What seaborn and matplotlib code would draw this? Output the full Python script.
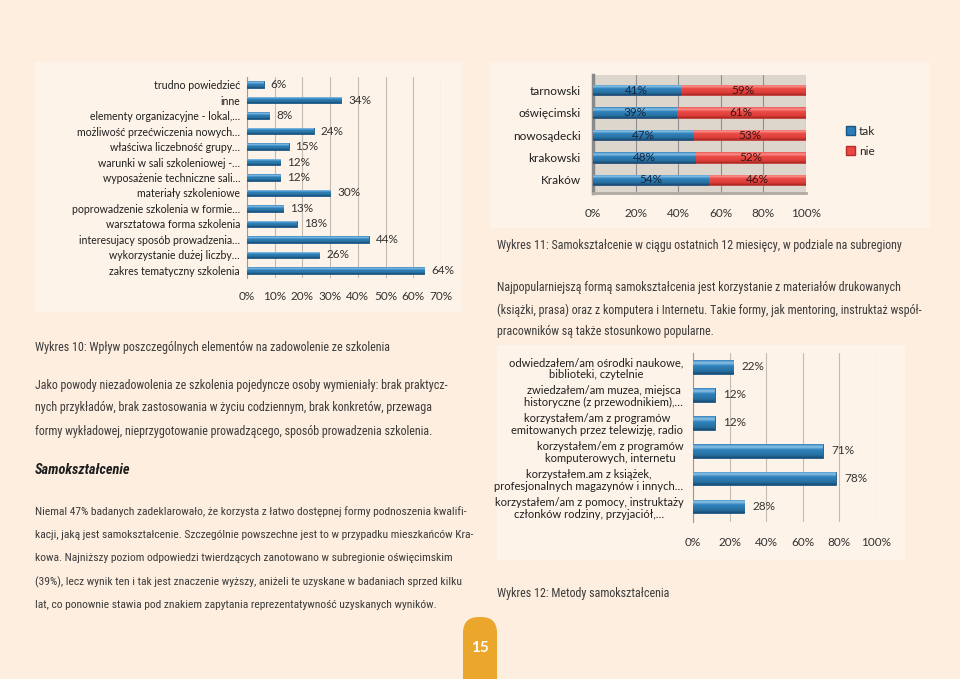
import numpy as np
import pandas as pd
import matplotlib
matplotlib.use('Agg')
import matplotlib.pyplot as plt
import seaborn as sns
from matplotlib import font_manager
from matplotlib.ft2font import FT2Font
from matplotlib.font_manager import FontProperties
from matplotlib.colors import LinearSegmentedColormap
from matplotlib.patches import FancyBboxPatch, Patch, Rectangle

sns.set_style('white')

fonts = font_manager.fontManager.ttflist
names = {f.name for f in fonts}
chart_font = 'Lato' if 'Lato' in names else 'DejaVu Sans'
plt.rcParams['font.family'] = [chart_font, 'DejaVu Sans']

W, H = 960, 679
PAGE = '#fdeedf'
BLUE = '#2c7db8'
BLUE_EDGE = '#1b5786'
RED = '#ec4843'
RED_EDGE = '#b52e2a'
TXT = '#3b3b3b'

# Wykres 10
elements = ['trudno powiedzieć', 'inne', 'elementy organizacyjne - lokal,…',
            'możliwość przećwiczenia nowych…', 'właściwa liczebność grupy…',
            'warunki w sali szkoleniowej -…', 'wyposażenie techniczne sali…',
            'materiały szkoleniowe', 'poprowadzenie szkolenia w formie…',
            'warsztatowa forma szkolenia', 'interesujacy sposób prowadzenia…',
            'wykorzystanie dużej liczby…', 'zakres tematyczny szkolenia']
elements_pct = [6, 34, 8, 24, 15, 12, 12, 30, 13, 18, 44, 26, 64]

# Wykres 11
subregions = ['tarnowski', 'oświęcimski', 'nowosądecki', 'krakowski', 'Kraków']
tak = [41, 39, 47, 48, 54]
nie = [59, 61, 53, 52, 46]

# Wykres 12
methods = ['odwiedzałem/am ośrodki naukowe,\nbiblioteki, czytelnie',
           'zwiedzałem/am muzea, miejsca\nhistoryczne (z przewodnikiem),…',
           'korzystałem/am z programów\nemitowanych przez telewizję, radio',
           'korzystałem/em z programów\nkomputerowych, internetu',
           'korzystałem.am z książek,\nprofesjonalnych magazynów i innych…',
           'korzystałem/am z pomocy, instruktaży\nczłonków rodziny, przyjaciół,…']
methods_pct = [22, 12, 12, 71, 78, 28]

# page text
caption10 = 'Wykres 10: Wpływ poszczególnych elementów na zadowolenie ze szkolenia'
caption11 = 'Wykres 11: Samokształcenie w ciągu ostatnich 12 miesięcy, w podziale na subregiony'
caption12 = 'Wykres 12: Metody samokształcenia'
heading = 'Samokształcenie'
para1 = ['Jako powody niezadowolenia ze szkolenia pojedyncze osoby wymieniały: brak praktycz-',
         'nych przykładów, brak zastosowania w życiu codziennym, brak konkretów, przewaga',
         'formy wykładowej, nieprzygotowanie prowadzącego, sposób prowadzenia szkolenia.']
para2 = ['Niemal 47% badanych zadeklarowało, że korzysta z łatwo dostępnej formy podnoszenia kwalifi-',
         'kacji, jaką jest samokształcenie. Szczególnie powszechne jest to w przypadku mieszkańców Kra-',
         'kowa. Najniższy poziom odpowiedzi twierdzących zanotowano w subregionie oświęcimskim',
         '(39%), lecz wynik ten i tak jest znaczenie wyższy, aniżeli te uzyskane w badaniach sprzed kilku',
         'lat, co ponownie stawia pod znakiem zapytania reprezentatywność uzyskanych wyników.']
para3 = ['Najpopularniejszą formą samokształcenia jest korzystanie z materiałów drukowanych',
         '(książki, prasa) oraz z komputera i Internetu. Takie formy, jak mentoring, instruktaż współ-',
         'pracowników są także stosunkowo popularne.']
page_no = '15'

fig = plt.figure(figsize=(W / 100, H / 100), dpi=100, facecolor=PAGE)
renderer = fig.canvas.get_renderer()

# background canvas in pixel coordinates
bg = fig.add_axes([0, 0, 1, 1], zorder=-5)
bg.set_xlim(0, W)
bg.set_ylim(H, 0)
bg.axis('off')
for x0, y0, x1, y1 in [(35, 62, 462, 312), (490, 62, 930, 228), (497, 345, 905, 560)]:
    bg.add_patch(Rectangle((x0, y0), x1 - x0, y1 - y0, color='#fef3e8', lw=0))


def text_width(s, fp, size=11):
    t = bg.text(0, 0, s, fontproperties=fp, fontsize=size)
    w = t.get_window_extent(renderer=renderer).width
    t.remove()
    return w


def weight_of(f):
    w = f.weight
    if isinstance(w, str):
        w = font_manager.weight_dict.get(w, 400)
    return w


def has_polish(path):
    try:
        ft = FT2Font(path)
        return all(ft.get_char_index(ord(c)) for c in 'ąćęłńóśźżĄŁŚŻ…')
    except Exception:
        return False


# narrow sans face for the page text, taken only from the known sans families
families = ('DejaVu Sans', 'Liberation Sans', 'Noto Sans', 'Roboto', 'Open Sans', 'Lato', 'Inter')
pool = [f for f in fonts if f.name.startswith(families) and 'CJK' not in f.name
        and 'Mono' not in f.name and has_polish(f.fname)]
regular = [f for f in pool if 350 <= weight_of(f) <= 500 and f.style == 'normal'
           and ('Narrow' in f.name or 'Condensed' in f.name
                or f.stretch in ('condensed', 'semi-condensed'))]
fallback = [f for f in pool if f.name == 'Roboto' and 350 <= weight_of(f) <= 500 and f.style == 'normal']
regular = regular or fallback
if regular:
    body_font = min(regular, key=lambda f: abs(text_width(para1[0], FontProperties(fname=f.fname), 10) - 427))
    BODY = FontProperties(fname=body_font.fname)
    bold_it = [f for f in pool if f.name == body_font.name and f.stretch == body_font.stretch
               and weight_of(f) >= 600 and f.style == 'italic']
    bold = [f for f in pool if f.name == body_font.name and f.stretch == body_font.stretch
            and weight_of(f) >= 600]
    pick = bold_it or bold
    HEAD = FontProperties(fname=pick[0].fname) if pick else BODY
else:
    BODY = FontProperties(family='DejaVu Sans')
    HEAD = FontProperties(family='DejaVu Sans', weight='bold', style='italic')

blue_shine = LinearSegmentedColormap.from_list(
    'bs', [(0, '#3886bf'), (0.2, '#8cc2e6'), (0.4, '#3083be'), (0.8, '#27709f'), (1, '#174b74')])
red_shine = LinearSegmentedColormap.from_list(
    'rs', [(0, '#ee5853'), (0.2, '#f6928d'), (0.4, '#ec4a45'), (0.8, '#dc3e39'), (1, '#a82824')])


def place(x0, y0, x1, y1):
    ax = fig.add_axes([x0 / W, 1 - y1 / H, (x1 - x0) / W, (y1 - y0) / H])
    ax.patch.set_alpha(0)
    return ax


def shine(ax, patches, cmap):
    grad = np.linspace(0, 1, 40).reshape(-1, 1)
    for p in patches:
        x0, y0, w, h = p.get_x(), p.get_y(), p.get_width(), p.get_height()
        im = ax.imshow(grad, cmap=cmap, extent=(x0, x0 + w, y0 + h, y0), origin='upper',
                       aspect='auto', zorder=p.get_zorder() + 0.1, interpolation='bilinear')
        im.set_clip_path(p)


def fit_size(lines, width, fp=BODY, start=11):
    return float(min(start * width / text_width(s, fp, start) for s in lines))


def paragraph(lines, x, ys, size):
    for s, y in zip(lines, ys):
        bg.text(x, y, s, fontproperties=BODY, fontsize=size, color=TXT, va='center', ha='left')


def boundary_ticks(ax, n):
    ax.set_yticks(np.arange(n + 1) - 0.5, minor=True)
    ax.tick_params(axis='y', which='minor', length=3, color='#9a9a9a', width=0.8)


# ---- Wykres 10 ----
ax1 = place(247, 77, 441, 278)
df1 = pd.DataFrame({'element': elements, 'pct': elements_pct})
sns.barplot(data=df1, x='pct', y='element', ax=ax1, color=BLUE, width=0.42,
            saturation=1, edgecolor=BLUE_EDGE, linewidth=0.6, zorder=3)
shine(ax1, list(ax1.patches), blue_shine)
ax1.set_xlim(0, 70)
ax1.set_ylim(12.5, -0.5)
ax1.set_xticks(range(0, 71, 10))
ax1.set_xticklabels([f'{v}%' for v in range(0, 71, 10)])
ax1.xaxis.grid(True, color='#c3bcb2', lw=0.8)
ax1.set_axisbelow(True)
ax1.set_xlabel('')
ax1.set_ylabel('')
ax1.tick_params(axis='x', length=0, pad=9, labelsize=8.5, colors='#333333')
ax1.tick_params(axis='y', which='major', length=0, pad=5, labelsize=7.6, colors='#1e1e1e')
boundary_ticks(ax1, len(elements))
sns.despine(ax=ax1, top=True, right=True, bottom=True)
ax1.spines['left'].set_color('#9a9a9a')
for i, v in enumerate(elements_pct):
    ax1.annotate(f'{v}%', (v, i), xytext=(5, 0), textcoords='offset points',
                 va='center', fontsize=8.5, color='#333333')

# ---- Wykres 11 ----
ax2 = place(593, 75, 806, 193)
df2 = pd.DataFrame({'sub': subregions, 'tak': tak, 'nie': nie})
df2['total'] = df2['tak'] + df2['nie']
ax2.patch.set_alpha(1)
ax2.set_facecolor('#ddd6cc')
sns.barplot(data=df2, x='total', y='sub', ax=ax2, color=RED, width=0.48,
            saturation=1, edgecolor=RED_EDGE, linewidth=0.5, zorder=3)
red_bars = list(ax2.patches)
sns.barplot(data=df2, x='tak', y='sub', ax=ax2, color=BLUE, width=0.48,
            saturation=1, edgecolor=BLUE_EDGE, linewidth=0.5, zorder=4)
blue_bars = [p for p in ax2.patches if p not in red_bars]
shine(ax2, red_bars, red_shine)
shine(ax2, blue_bars, blue_shine)
ax2.set_xlim(0, 100)
ax2.set_ylim(4.58, -0.67)
ax2.set_xticks(range(0, 101, 20))
ax2.set_xticklabels([f'{v}%' for v in range(0, 101, 20)])
ax2.xaxis.grid(True, color='#8f8f8f', lw=0.8)
ax2.set_axisbelow(True)
ax2.set_xlabel('')
ax2.set_ylabel('')
ax2.tick_params(axis='x', length=0, pad=11, labelsize=8.5, colors='#333333')
ax2.tick_params(axis='y', which='major', length=0, pad=9, labelsize=8.5, colors='#1e1e1e')
boundary_ticks(ax2, len(subregions))
for s in ax2.spines.values():
    s.set_visible(False)
ax2.spines['left'].set_visible(True)
ax2.spines['left'].set_color('#8a8a8a')
ax2.spines['left'].set_linewidth(2.5)
ax2.spines['bottom'].set_visible(True)
ax2.spines['bottom'].set_color('#b0aaa2')
ax2.spines['bottom'].set_linewidth(2)
for i, (a, b) in enumerate(zip(tak, nie)):
    ax2.text(a / 2, i, f'{a}%', ha='center', va='center', fontsize=8.5, color='#17253d', zorder=6)
    ax2.text(a + b / 2, i, f'{b}%', ha='center', va='center', fontsize=8.5, color='#3a1414', zorder=6)
fig.legend(handles=[Patch(facecolor=BLUE, edgecolor=BLUE_EDGE), Patch(facecolor=RED, edgecolor=RED_EDGE)],
           labels=['tak', 'nie'], loc='upper left', bbox_to_anchor=(846 / W, 1 - 126 / H),
           frameon=False, handlelength=0.8, handleheight=0.8, handletextpad=0.3,
           labelspacing=0.75, fontsize=8.5, borderaxespad=0, borderpad=0)

# ---- Wykres 12 ----
ax3 = place(693, 353, 876, 522)
df3 = pd.DataFrame({'method': methods, 'pct': methods_pct})
sns.barplot(data=df3, x='pct', y='method', ax=ax3, color=BLUE, width=0.47,
            saturation=1, edgecolor=BLUE_EDGE, linewidth=0.6, zorder=3)
shine(ax3, list(ax3.patches), blue_shine)
ax3.set_xlim(0, 100)
ax3.set_ylim(5.54, -0.5)
ax3.set_xticks(range(0, 101, 20))
ax3.set_xticklabels([f'{v}%' for v in range(0, 101, 20)])
ax3.set_yticks(range(len(methods)))
ax3.set_yticklabels(methods, multialignment='center', linespacing=1.15)
ax3.xaxis.grid(True, color='#c3bcb2', lw=0.8)
ax3.set_axisbelow(True)
ax3.set_xlabel('')
ax3.set_ylabel('')
ax3.tick_params(axis='x', length=0, pad=11, labelsize=8.5, colors='#333333')
ax3.tick_params(axis='y', which='major', length=0, pad=7, labelsize=8, colors='#1e1e1e')
boundary_ticks(ax3, len(methods))
sns.despine(ax=ax3, top=True, right=True, bottom=True)
ax3.spines['left'].set_color('#9a9a9a')
for i, v in enumerate(methods_pct):
    ax3.annotate(f'{v}%', (v, i), xytext=(6, 0), textcoords='offset points',
                 va='center', fontsize=8.5, color='#333333')

# ---- page text ----
size1 = fit_size(para1[:2], 462 - 35)
size2 = fit_size(para2[:4], 470 - 35)
size3 = fit_size(para3[:2], 922 - 497)
body = min(size1, size3)
cap_size = min(body, fit_size([caption11], 925 - 497))
for x, y, s in [(35, 347, caption10), (497, 245, caption11), (497, 593, caption12)]:
    bg.text(x, y, s, fontproperties=BODY, fontsize=cap_size, color=TXT, va='center')
paragraph(para1, 35, [385, 408, 431], body)
head_size = min(fit_size([heading], 150 - 35, HEAD), body * 1.2)
bg.text(35, 470, heading, fontproperties=HEAD, fontsize=head_size, color='#1e1e1e', va='center')
paragraph(para2, 35, [512, 535, 558, 582, 605], size2)
paragraph(para3, 497, [287, 310, 332], body)

# page number tab
bg.add_patch(FancyBboxPatch((463, 617), 34, 90, boxstyle='round,pad=0,rounding_size=16',
                            facecolor='#eba62c', edgecolor='none'))
bg.text(480, 648, page_no, ha='center', va='center', fontsize=11, weight='bold', color='white')

fig.savefig('out.png', dpi=100, facecolor=PAGE)
